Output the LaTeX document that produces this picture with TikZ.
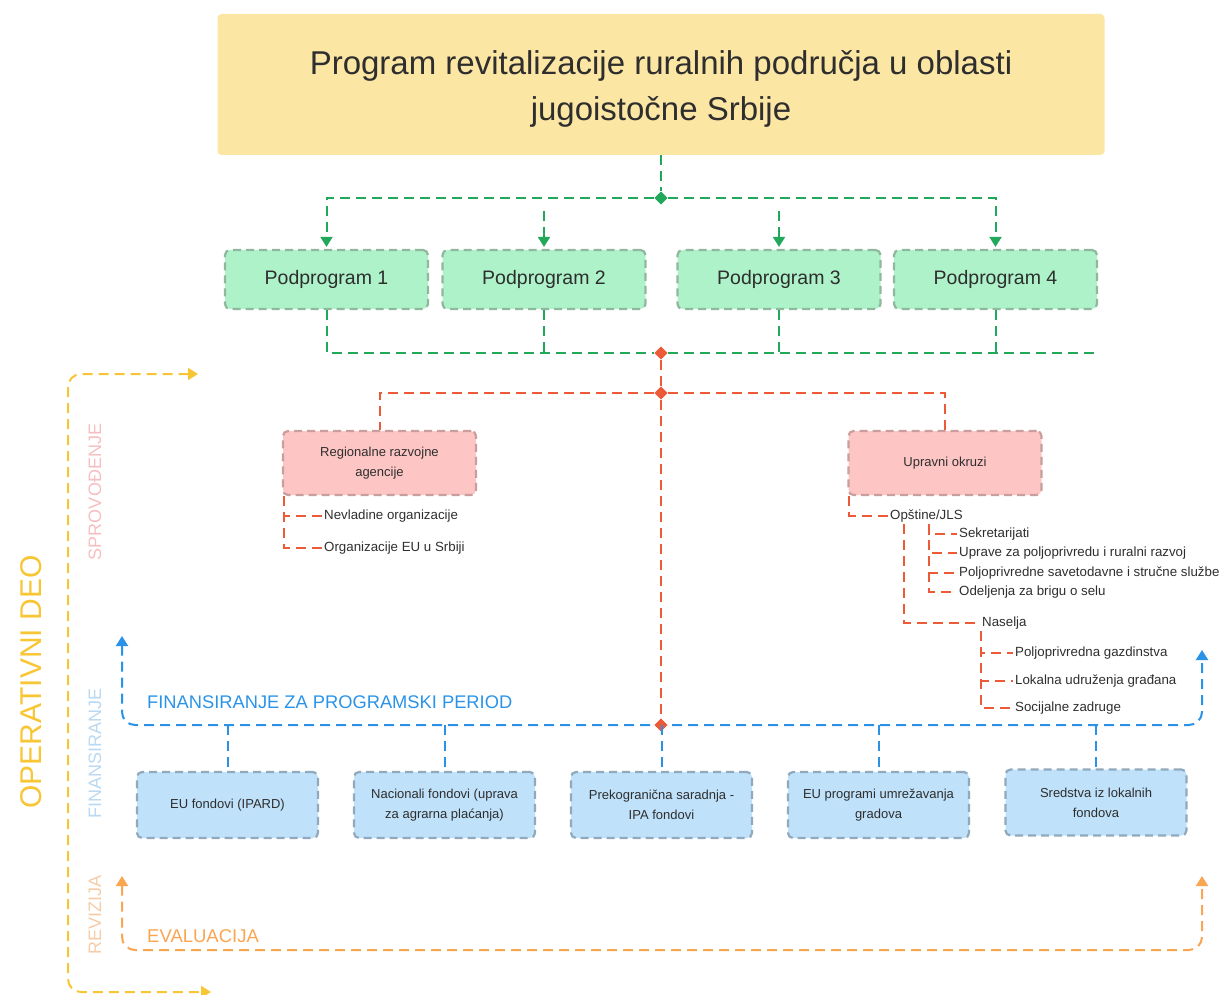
\documentclass[tikz,border=0pt]{standalone}
\usepackage{fontspec}
\setmainfont{Liberation Sans}
\usetikzlibrary{shapes.geometric,arrows.meta,calc}
\definecolor{titlefill}{HTML}{FCE6A4}
\definecolor{gline}{HTML}{22A85A}
\definecolor{gfill}{HTML}{ADF2C9}
\definecolor{gborder}{HTML}{8FB89F}
\definecolor{rline}{HTML}{EC5A38}
\definecolor{rfill}{HTML}{FDC6C4}
\definecolor{rborder}{HTML}{C99E9D}
\definecolor{bline}{HTML}{2A93E8}
\definecolor{bfill}{HTML}{BFE1FA}
\definecolor{bborder}{HTML}{90A9BC}
\definecolor{oline}{HTML}{F9A552}
\definecolor{yline}{HTML}{F8C634}
\definecolor{textdark}{HTML}{2E2E2E}
\definecolor{paler}{HTML}{F6BEC1}
\definecolor{paleb}{HTML}{B9D8F2}
\definecolor{paleo}{HTML}{F5CCA8}
\begin{document}
\begin{tikzpicture}[x=1pt,y=-1pt,
  every node/.style={text=textdark},
  conn/.style={line width=2pt, dash pattern=on 10pt off 6pt},
  greenconn/.style={conn, draw=gline},
  redconn/.style={conn, draw=rline},
  blueconn/.style={conn, draw=bline},
  orangeconn/.style={conn, draw=oline},
  yellowconn/.style={conn, draw=yline},
  tip/.style={-{Triangle[length=10pt,width=12pt]}},
  tips/.style={{Triangle[length=10pt,width=12pt]}-{Triangle[length=10pt,width=12pt]}},
  boxbase/.style={line width=2.2pt, dash pattern=on 8pt off 5pt, rounded corners=5pt, inner sep=0pt, align=center},
  greenbox/.style={boxbase, draw=gborder, fill=gfill, minimum width=203pt, minimum height=59pt, font=\fontsize{19.5}{23}\selectfont},
  redbox/.style={boxbase, draw=rborder, fill=rfill, minimum width=193pt, minimum height=64pt, font=\fontsize{13}{20}\selectfont},
  bluebox/.style={boxbase, draw=bborder, fill=bfill, minimum width=181pt, minimum height=66pt, font=\fontsize{13}{20}\selectfont},
  lbl/.style={anchor=west, inner sep=2pt, font=\fontsize{13.3}{16}\selectfont},
  jdiamond/.style={diamond, inner sep=0pt, minimum size=13pt},
  sidelbl/.style={rotate=90, inner sep=0pt, font=\fontsize{18}{22}\selectfont}
]
\useasboundingbox (0,0) rectangle (1227,995);

% title
\node[fill=titlefill, rounded corners=4pt, minimum width=887pt, minimum height=141pt, align=center,
  font=\fontsize{33}{46}\selectfont] (title) at (661,84.5)
  {\raisebox{-4pt}[\height][\depth]{Program revitalizacije ruralnih područja u oblasti}\\\raisebox{-4pt}[\height][\depth]{jugoistočne Srbije}};

% subprograms
\node[greenbox] (p1) at (326.5,279.5) {Podprogram 1};
\node[greenbox] (p2) at (544,279.5) {Podprogram 2};
\node[greenbox] (p3) at (779,279.5) {Podprogram 3};
\node[greenbox] (p4) at (995.5,279.5) {Podprogram 4};

\node[jdiamond, fill=gline] (gd) at (661,198) {};
\coordinate (p2in) at (544,211);
\coordinate (p3in) at (779,211);
\draw[greenconn] (title.south) -- (gd);
\draw[greenconn, tip, shorten >=2pt] (gd) -| (p1.north);
\draw[greenconn, tip, shorten >=2pt] (gd) -| (p4.north);
\draw[greenconn, tip, shorten >=2pt] (p2in) -- (p2.north);
\draw[greenconn, tip, shorten >=2pt] (p3in) -- (p3.north);
\node[jdiamond, fill=gline] at (gd) {};

\node[jdiamond, fill=rline] (rd1) at (661,353) {};
\coordinate (gend) at (1097,353);
\draw[greenconn] (p1.south) |- (rd1);
\draw[greenconn] (p2.south) -- (p2.south |- rd1);
\draw[greenconn] (p3.south) -- (p3.south |- rd1);
\draw[greenconn] (p4.south) -- (p4.south |- rd1);
\draw[greenconn] (rd1) -- (gend);
\node[jdiamond, fill=rline] at (rd1) {};

% implementation
\node[redbox] (reg) at (379.5,463) {Regionalne razvojne\\agencije};
\node[redbox] (upr) at (945,463) {Upravni okruzi};
\node[jdiamond, fill=rline] (rd2) at (661,393) {};
\node[jdiamond, fill=rline] (bd) at (661,725) {};
\draw[redconn] (rd1) -- (rd2);
\draw[redconn] (rd2) -| (reg.north);
\draw[redconn] (rd2) -| (upr.north);
\draw[redconn] (rd2) -- (bd);
\node[jdiamond, fill=rline] at (rd2) {};

\node[lbl] (nev) at (322,516) {Nevladine organizacije};
\node[lbl] (oeu) at (322,548) {Organizacije EU u Srbiji};
\draw[redconn] ($(reg.south west)+(2,0)$) |- (nev.west);
\draw[redconn] ($(reg.south west)+(2,0)$) |- (oeu.west);

\node[lbl] (ops) at (888,516) {Opštine/JLS};
\draw[redconn] ($(upr.south west)+(2,0)$) |- (ops.west);

\node[lbl] (sek) at (957,534) {Sekretarijati};
\node[lbl] (upv) at (957,553) {Uprave za poljoprivredu i ruralni razvoj};
\node[lbl] (pss) at (957,573) {Poljoprivredne savetodavne i stručne službe};
\node[lbl] (odb) at (957,592) {Odeljenja za brigu o selu};
\coordinate (opsA) at ($(ops.south west)+(41,0)$);
\coordinate (opsB) at ($(ops.south west)+(16,0)$);
\draw[redconn] (opsA) |- (sek.west);
\draw[redconn] (opsA) |- (upv.west);
\draw[redconn] (opsA) |- (pss.west);
\draw[redconn] (opsA) |- (odb.west);

\node[lbl] (nas) at (980,623) {Naselja};
\draw[redconn] (opsB) |- (nas.west);

\node[lbl] (pgz) at (1013,653) {Poljoprivredna gazdinstva};
\node[lbl] (lug) at (1013,681) {Lokalna udruženja građana};
\node[lbl] (soz) at (1013,708) {Socijalne zadruge};
\coordinate (nasA) at ($(nas.south west)+(1,0)$);
\draw[redconn] (nasA) |- (pgz.west);
\draw[redconn] (nasA) |- (lug.west);
\draw[redconn] (nasA) |- (soz.west);

% financing
\coordinate (bl) at (122,636);
\coordinate (br) at (1202,650);
\draw[blueconn, tips, rounded corners=13pt] (bl) |- (bd.center) -| (br);
\node[jdiamond, fill=rline] at (bd) {};
\node[anchor=west, inner sep=0pt, text=bline, font=\fontsize{18.3}{22}\selectfont] (fin) at (147,702) {FINANSIRANJE ZA PROGRAMSKI PERIOD};

\node[bluebox] (b1) at (227.5,805) {EU fondovi (IPARD)};
\node[bluebox] (b2) at (444.5,805) {Nacionali fondovi (uprava\\za agrarna plaćanja)};
\node[bluebox] (b3) at (661.5,805) {Prekogranična saradnja -\\IPA fondovi};
\node[bluebox] (b4) at (878.5,805) {EU programi umrežavanja\\gradova};
\node[bluebox] (b5) at (1096,802.5) {Sredstva iz lokalnih\\fondova};
\foreach \b in {b1,b2,b3,b4,b5}{
  \draw[blueconn] (\b.north |- bd) -- (\b.north);
}

% evaluation
\coordinate (ol) at (122,876);
\coordinate (obot) at (661,950);
\coordinate (or) at (1202,876);
\draw[orangeconn, tips, rounded corners=13pt] (ol) |- (obot) -| (or);
\node[anchor=west, inner sep=0pt, text=oline, font=\fontsize{18.5}{22}\selectfont] (eva) at (147,936) {EVALUACIJA};

% operative bracket
\coordinate (ytop) at (198,374);
\coordinate (ymid) at (68,683);
\coordinate (ybot) at (211,992);
\draw[yellowconn, tips, rounded corners=13pt] (ytop) -| (ymid) |- (ybot);

\node[rotate=90, inner sep=0pt, text=yline, font=\fontsize{30}{34}\selectfont] (opd) at (31,682) {OPERATIVNI DEO};
\node[sidelbl, text=paler] (spr) at (95,492) {SPROVOĐENJE};
\node[sidelbl, text=paleb] (fns) at (95,753) {FINANSIRANJE};
\node[sidelbl, text=paleo] (rev) at (95,915) {REVIZIJA};
\end{tikzpicture}
\end{document}
